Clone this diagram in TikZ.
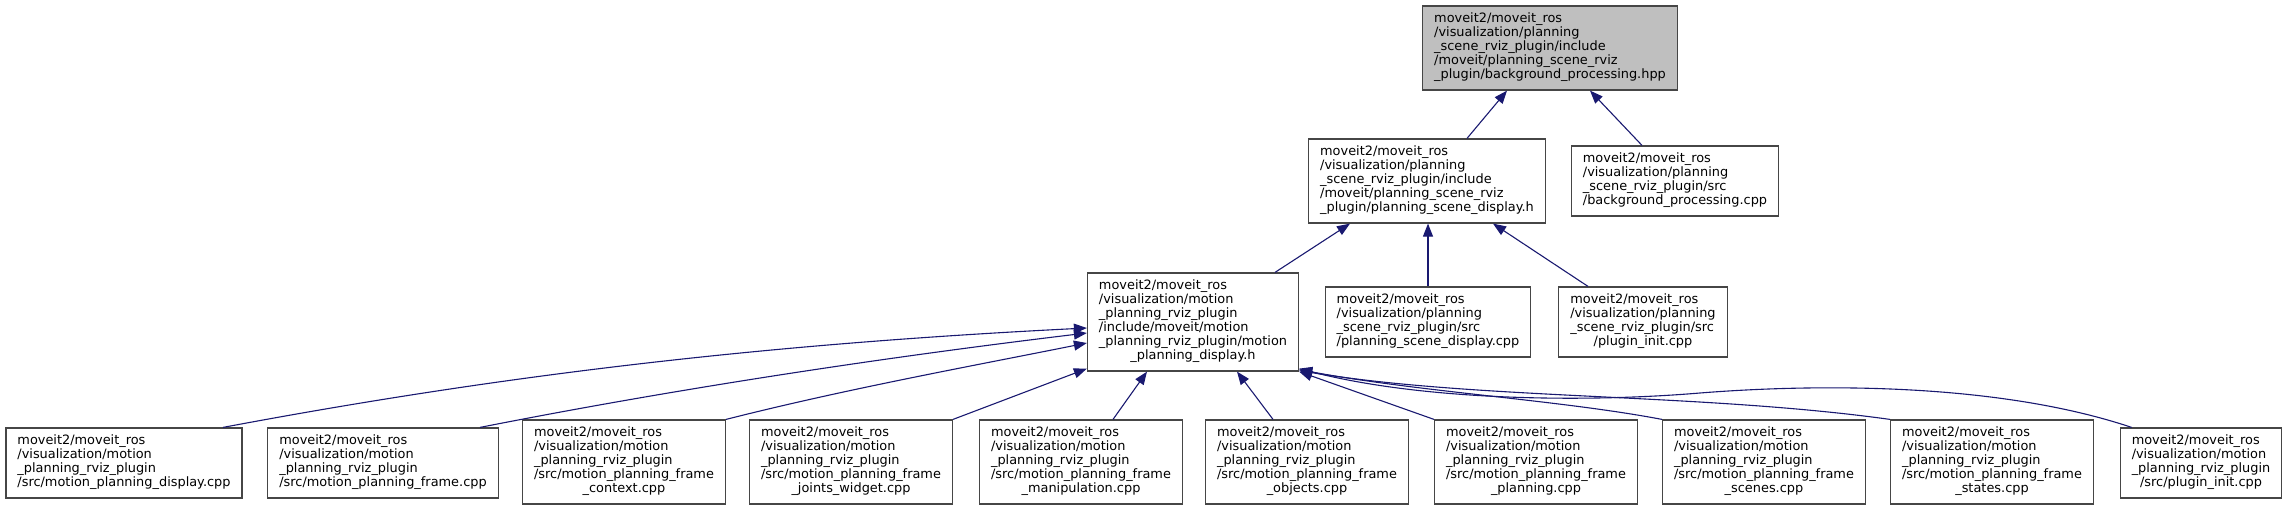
\documentclass[tikz,border=0pt]{standalone}
\usepackage{fontspec}
\setmainfont{DejaVu Sans}
\usepackage{tikz}
\usetikzlibrary{arrows.meta, calc}
\definecolor{edgeblue}{RGB}{25,25,112}
\definecolor{boxline}{RGB}{70,70,70}
\newcommand{\fn}[1]{\begin{tabular}{@{}l@{}}#1\end{tabular}}
\newcommand{\lastln}[1]{\multicolumn{1}{@{}c@{}}{#1}}
\tikzset{
    file/.style={rectangle, draw=boxline, line width=1.2pt, fill=white, inner xsep=11.5pt, inner ysep=7pt, font=\fontsize{12.9}{14}\selectfont},
    file_root/.style={file, fill=gray!50},
    dep/.style={draw=edgeblue, line width=1.1pt, -{Triangle[length=13pt, width=10pt]}}
}

\begin{document}
\begin{tikzpicture}[x=1pt, y=-1pt]
    \useasboundingbox (0,0) rectangle (2287,511);

    % Header and its direct users
    \node (bgph) [file_root] at (1550,48) {\fn{moveit2/moveit\_ros\\/visualization/planning\\\_scene\_rviz\_plugin/include\\/moveit/planning\_scene\_rviz\\\lastln{\_plugin/background\_processing.hpp}}};
    \node (psdh) [file] at (1427,181) {\fn{moveit2/moveit\_ros\\/visualization/planning\\\_scene\_rviz\_plugin/include\\/moveit/planning\_scene\_rviz\\\lastln{\_plugin/planning\_scene\_display.h}}};
    \node (bgpc) [file] at (1675,181) {\fn{moveit2/moveit\_ros\\/visualization/planning\\\_scene\_rviz\_plugin/src\\\lastln{/background\_processing.cpp}}};

    % Middle row
    \node (mpdh) [file] at (1193,322) {\fn{moveit2/moveit\_ros\\/visualization/motion\\\_planning\_rviz\_plugin\\/include/moveit/motion\\\_planning\_rviz\_plugin/motion\\\lastln{\_planning\_display.h}}};
    \node (psdc) [file] at (1428,322) {\fn{moveit2/moveit\_ros\\/visualization/planning\\\_scene\_rviz\_plugin/src\\\lastln{/planning\_scene\_display.cpp}}};
    \node (pinit) [file] at (1643,322) {\fn{moveit2/moveit\_ros\\/visualization/planning\\\_scene\_rviz\_plugin/src\\\lastln{/plugin\_init.cpp}}};

    % Bottom row
    \node (b1) [file] at (124,463) {\fn{moveit2/moveit\_ros\\/visualization/motion\\\_planning\_rviz\_plugin\\\lastln{/src/motion\_planning\_display.cpp}}};
    \node (b2) [file] at (383,463) {\fn{moveit2/moveit\_ros\\/visualization/motion\\\_planning\_rviz\_plugin\\\lastln{/src/motion\_planning\_frame.cpp}}};
    \foreach \nm/\x/\sfx in {b3/624/context, b4/851/joints\_widget, b5/1081/manipulation, b6/1307/objects, b7/1536/planning, b8/1764/scenes, b9/1992/states}
        \node (\nm) [file] at (\x,462) {\fn{moveit2/moveit\_ros\\/visualization/motion\\\_planning\_rviz\_plugin\\/src/motion\_planning\_frame\\\lastln{\_\sfx.cpp}}};
    \node (b10) [file] at (2201,463) {\fn{moveit2/moveit\_ros\\/visualization/motion\\\_planning\_rviz\_plugin\\\lastln{/src/plugin\_init.cpp}}};

    % Upper edges
    \draw [dep] ([xshift=40pt]psdh.north) -- ([xshift=-43pt]bgph.south);
    \draw [dep] ([xshift=-33pt]bgpc.north) -- ([xshift=40pt]bgph.south);
    \draw [dep] ([xshift=82pt]mpdh.north) -- ([xshift=-77pt]psdh.south);
    \draw [dep] (psdc.north) -- (psdc.north |- psdh.south);
    \draw [dep] ([xshift=-55pt]pinit.north) -- ([xshift=66pt]psdh.south);

    % Edges into motion_planning_display.h
    \draw [dep] ([xshift=99pt]b1.north) .. controls (523,371) and (787,343) .. ([yshift=-6pt]mpdh.west);
    \draw [dep] ([xshift=97pt]b2.north) .. controls (680,388) and (887,357) .. ([yshift=-11pt]mpdh.west);
    \draw [dep] (b3.north east) .. controls (846,389) and (967,367) .. ([yshift=-21pt]mpdh.west);
    \draw [dep] (b4.north east) -- ([yshift=3pt]mpdh.south west);
    \draw [dep] ([xshift=32pt]b5.north) -- ([xshift=-46pt]mpdh.south);
    \draw [dep] ([xshift=-34pt]b6.north) -- ([xshift=44pt]mpdh.south);
    \draw [dep] (b7.north west) -- (mpdh.south east);
    \draw [dep] (b8.north west) .. controls (1560,400) and (1420,392) .. ([yshift=2pt]mpdh.south east);
    \draw [dep] (b9.north west) .. controls (1700,393) and (1480,400) .. ([yshift=1pt]mpdh.south east);
    \draw [dep] ([xshift=12pt]b10.north west) .. controls (1990,380) and (1800,385) .. (1700,393)
        .. controls (1580,403) and (1420,400) .. ([yshift=3pt]mpdh.south east);

\end{tikzpicture}
\end{document}
